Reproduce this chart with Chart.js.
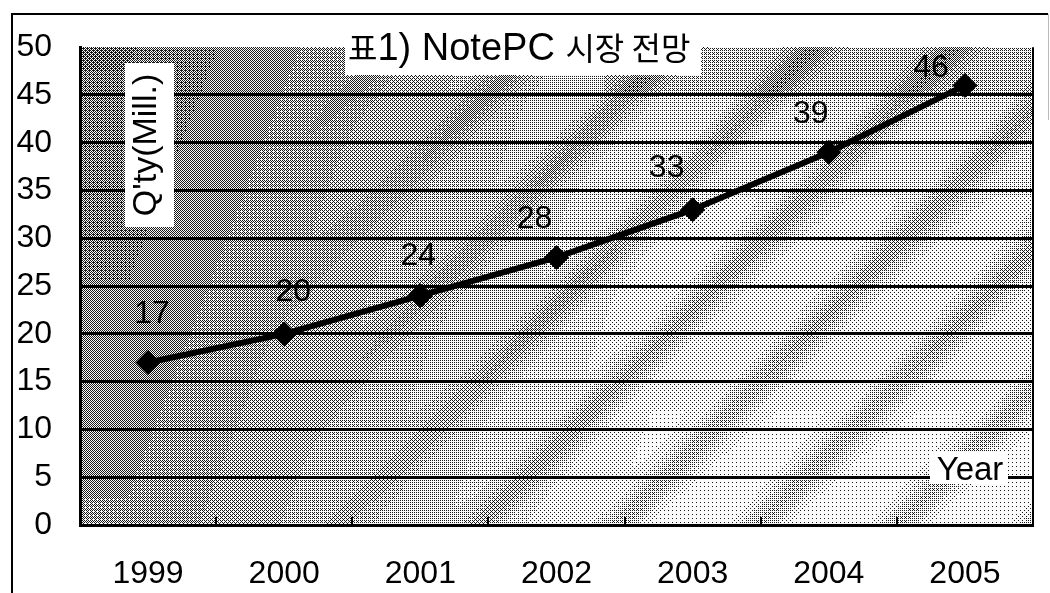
<!DOCTYPE html>
<html>
<head>
<meta charset="utf-8">
<script src="https://cdn.jsdelivr.net/npm/chart.js@4.4.1/dist/chart.umd.min.js"></script>
<style>
  html, body { margin: 0; padding: 0; background: #fff; }
  canvas { display: block; }
</style>
</head>
<body>
<canvas id="c" width="1050" height="593"></canvas>
<script>
// Notebook PC market outlook, millions of units per year
const years = ['1999', '2000', '2001', '2002', '2003', '2004', '2005'];
const shipments = [17, 20, 24, 28, 33, 39, 46];
const yMin = 0;
const yMax = 50;
const yStep = 5;

// Value-label nudges (dx, dy) from each marker, in px
const labelShift = [[4, -48], [9, -42], [-2, -39], [-22, -38], [-26, -41], [-18, -38], [-34, -17]];

const LATIN = "'Liberation Sans', Arial, sans-serif";
const HANGUL = "'Noto Sans CJK KR', 'Liberation Sans', sans-serif";

// Tone of the textured plot fill (0 = black, 1 = white)
function shade(a, b, u, v) {
  const ramp = Math.min(1, Math.max(0, (a - 0.05) / 0.55));
  let t = 0.40 + 0.40 * ramp + 0.14 * b;
  const s = 0.5 + 0.5 * Math.sin((u + v) / 140 * 2 * Math.PI);
  t -= 0.24 * Math.pow(s, 4) * Math.min(1, Math.max(0, (a - 0.2) / 0.3));
  if (v < 48 && a > 0.55) t -= 0.12;
  return t;
}

const BAYER = [0, 8, 2, 10, 12, 4, 14, 6, 3, 11, 1, 9, 15, 7, 13, 5];

const backdrop = {
  id: 'backdrop',
  beforeDraw(chart) {
    const { ctx, chartArea: a } = chart;
    ctx.save();
    ctx.fillStyle = '#fff';
    ctx.fillRect(0, 0, chart.width, chart.height);

    // outer frame
    ctx.strokeStyle = '#000';
    ctx.lineWidth = 2;
    ctx.beginPath();
    ctx.moveTo(12, chart.height);
    ctx.lineTo(12, 14);
    ctx.lineTo(1048, 14);
    ctx.stroke();
    ctx.strokeStyle = '#bbb';
    ctx.lineWidth = 1;
    ctx.beginPath();
    ctx.moveTo(1048.5, 14);
    ctx.lineTo(1048.5, 120);
    ctx.stroke();

    // dithered texture inside the plot area
    const x0 = Math.round(a.left), y0 = Math.round(a.top);
    const w = Math.round(a.right) - x0, h = Math.round(a.bottom) - y0;
    const img = ctx.createImageData(w, h);
    const d = img.data;
    for (let v = 0; v < h; v++) {
      for (let u = 0; u < w; u++) {
        const t = shade(u / w, v / h, u, v);
        const th = (BAYER[(v & 3) * 4 + (u & 3)] + 0.5) / 16;
        const c = t > th ? 250 : 25;
        const i = (v * w + u) * 4;
        d[i] = d[i + 1] = d[i + 2] = c;
        d[i + 3] = 255;
      }
    }
    ctx.putImageData(img, x0, y0);
    ctx.restore();
  }
};

function whiteBox(ctx, x, y, w, h) {
  ctx.fillStyle = '#fff';
  ctx.fillRect(x, y, w, h);
  ctx.fillStyle = '#000';
}

const annotations = {
  id: 'annotations',
  afterDatasetsDraw(chart) {
    const { ctx, chartArea: a, scales } = chart;
    ctx.save();

    // right edge of the plot area
    ctx.strokeStyle = '#000';
    ctx.lineWidth = 2;
    ctx.beginPath();
    ctx.moveTo(a.right, a.top);
    ctx.lineTo(a.right, a.bottom);
    ctx.stroke();

    // category separators on the x axis
    const xs = scales.x;
    ctx.lineWidth = 2;
    for (let i = 0; i < years.length - 1; i++) {
      const bx = Math.round((xs.getPixelForTick(i) + xs.getPixelForTick(i + 1)) / 2);
      ctx.beginPath();
      ctx.moveTo(bx, a.bottom);
      ctx.lineTo(bx, a.bottom - 8);
      ctx.stroke();
    }

    // chart title
    whiteBox(ctx, 345, 30, 356, 45);
    const runs = [
      { t: '표', f: '32px ' + HANGUL },
      { t: '1) NotePC ', f: '38px ' + LATIN },
      { t: '시장 전망', f: '32px ' + HANGUL }
    ];
    ctx.textBaseline = 'alphabetic';
    ctx.textAlign = 'left';
    let tx = 348;
    for (const r of runs) {
      ctx.font = r.f;
      ctx.fillText(r.t, tx, 60);
      tx += ctx.measureText(r.t).width;
    }

    // value axis caption
    whiteBox(ctx, 125, 63, 49, 164);
    ctx.save();
    ctx.translate(156, 145);
    ctx.rotate(-Math.PI / 2);
    ctx.font = '34px ' + LATIN;
    ctx.textAlign = 'center';
    ctx.textBaseline = 'alphabetic';
    ctx.fillText("Q'ty(Mill.)", 0, 0);
    ctx.restore();

    // category axis caption
    whiteBox(ctx, 930, 452, 78, 32);
    ctx.font = '33px ' + LATIN;
    ctx.textAlign = 'center';
    ctx.textBaseline = 'alphabetic';
    ctx.fillText('Year', 970, 480);

    // value labels
    const meta = chart.getDatasetMeta(0);
    ctx.font = '32px ' + LATIN;
    ctx.fillStyle = '#000';
    ctx.textAlign = 'center';
    ctx.textBaseline = 'middle';
    meta.data.forEach((pt, i) => {
      const [dx, dy] = labelShift[i];
      ctx.fillText(String(shipments[i]), pt.x + dx, pt.y + dy);
    });

    ctx.restore();
  }
};

new Chart(document.getElementById('c'), {
  type: 'line',
  data: {
    labels: years,
    datasets: [{
      data: shipments,
      borderColor: '#000',
      borderWidth: 6,
      pointStyle: 'rectRot',
      pointRadius: 12,
      pointBackgroundColor: '#000',
      pointBorderColor: '#000',
      pointBorderWidth: 1,
      tension: 0,
      clip: false
    }]
  },
  options: {
    responsive: false,
    animation: false,
    devicePixelRatio: 1,
    layout: { padding: { left: 0, right: 17, top: 38, bottom: 0 } },
    plugins: {
      legend: { display: false },
      tooltip: { enabled: false },
      title: { display: false }
    },
    scales: {
      x: {
        offset: true,
        grid: { display: false, drawTicks: false },
        border: { display: true, color: '#000', width: 3 },
        ticks: {
          color: '#000',
          font: { family: LATIN, size: 32 },
          padding: 30,
          maxRotation: 0,
          autoSkip: false
        },
        afterFit(scale) { scale.height = 68; }
      },
      y: {
        min: yMin,
        max: yMax,
        ticks: {
          stepSize: yStep,
          color: '#000',
          font: { family: LATIN, size: 32 },
          padding: 28
        },
        grid: {
          color: (c) => (c.tick && c.tick.value === yMax ? 'rgba(0,0,0,0)' : '#000'),
          lineWidth: 3,
          drawTicks: false
        },
        border: { display: true, color: '#000', width: 3 },
        afterFit(scale) { scale.width = 80; }
      }
    }
  },
  plugins: [backdrop, annotations]
});
</script>
</body>
</html>
